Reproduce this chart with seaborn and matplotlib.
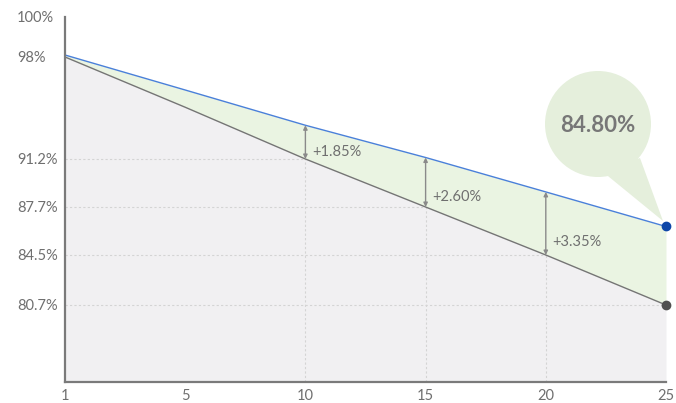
import numpy as np
import pandas as pd
import matplotlib
matplotlib.use("Agg")
import matplotlib.pyplot as plt
from matplotlib.patches import Circle, Polygon
import seaborn as sns

# ---------------- data ----------------
years = ["1", "5", "10", "15", "20", "25"]
upper_series = [98.1, 95.8, 93.45, 91.3, 88.8, 86.4]    # blue line
lower_series = [98.0, 94.65, 91.2, 87.7, 84.5, 80.7]    # grey line
gap_years = ["10", "15", "20"]
gap_labels = ["+1.85%", "+2.60%", "+3.35%"]
tick_values = [100, 98, 91.2, 87.7, 84.5, 80.7]
tick_labels = ["100%", "98%", "91.2%", "87.7%", "84.5%", "80.7%"]
grid_values = [91.2, 87.7, 84.5, 80.7]
bubble_text = "84.80%"

# ---------------- styling / layout ----------------
sns.set_theme(style="white")
plt.rcParams["font.family"] = ["Lato", "DejaVu Sans"]

TXT = "#6f6f6f"
BLUE = "#4a80d9"
BLUE_DOT = "#0e46a8"
GREY = "#757575"
GREY_DOT = "#505050"
FILL_GREY = "#f1f0f2"
FILL_GREEN = "#eaf4e2"
BUBBLE = "#e5efdc"

# piecewise axis scale (value -> height), matching the uneven label spacing
scale_v = [-100.0, 74.85, 80.7, 84.5, 87.7, 91.2, 98.0, 100.0, 300.0]
scale_h = [-(174.85) * 13.16, 0, 77, 127, 175, 223, 325, 365, 365 + 200 * 20]


def fwd(v):
    return np.interp(v, scale_v, scale_h)


def inv(h):
    return np.interp(h, scale_h, scale_v)


W, H = 676, 403
fig = plt.figure(figsize=(W / 100, H / 100), dpi=100)
ax = fig.add_axes([65 / W, (H - 382) / H, (666 - 65) / W, (382 - 17) / H])

df = pd.DataFrame({"year": years, "upper": upper_series, "lower": lower_series})

sns.lineplot(data=df, x="year", y="upper", sort=False, color=BLUE, lw=1.0, ax=ax, zorder=4)
sns.lineplot(data=df, x="year", y="lower", sort=False, color=GREY, lw=1.0, ax=ax, zorder=4)

ax.set_yscale("function", functions=(fwd, inv))
ymin, ymax = 74.85, 100.0
ax.set_ylim(ymin, ymax)
ax.set_xlim(0, len(years) - 1)

xpos = np.arange(len(years))
grey_poly = ax.fill_between(xpos, ymin, df["lower"], color=FILL_GREY, lw=0, zorder=1)
ax.fill_between(xpos, df["lower"], df["upper"], color=FILL_GREEN, lw=0, zorder=1)

# gridlines clipped to the grey area
clip_path = grey_poly.get_paths()[0]
for gv in grid_values:
    ln = ax.axhline(gv, color="#d4d4d4", lw=0.8, ls=(0, (2, 2)), zorder=2)
    ln.set_clip_path(clip_path, ax.transData)
for gy in gap_years:
    i = years.index(gy)
    ln = ax.axvline(i, color="#d4d4d4", lw=0.8, ls=(0, (2, 2)), zorder=2)
    ln.set_clip_path(clip_path, ax.transData)

# end markers
last = len(years) - 1
ax.plot([last], [upper_series[-1]], "o", color=BLUE_DOT, ms=6, zorder=6, clip_on=False)
ax.plot([last], [lower_series[-1]], "o", color=GREY_DOT, ms=6, zorder=6, clip_on=False)

# gap arrows
for gy, lab in zip(gap_years, gap_labels):
    i = years.index(gy)
    lo, hi = lower_series[i], upper_series[i]
    ax.annotate("", xy=(i, hi), xytext=(i, lo),
                arrowprops=dict(arrowstyle="<|-|>", color="#8a8a8a", lw=1.0,
                                shrinkA=0, shrinkB=0, mutation_scale=6),
                zorder=5)
    ax.annotate(lab, xy=(i, lo + 0.2 * (hi - lo)), xytext=(5, 0),
                textcoords="offset points", ha="left", va="center",
                fontsize=10.5, color=TXT, zorder=5)

# axes styling
ax.set_xlabel("")
ax.set_ylabel("")
ax.set_xticks(xpos)
ax.set_xticklabels(years)
ax.set_yticks(tick_values)
ax.set_yticklabels(tick_labels)
ax.tick_params(axis="y", length=0, pad=34.5, labelsize=10.5, labelcolor=TXT)
ax.tick_params(axis="x", length=0, pad=5, labelsize=10.5, labelcolor=TXT)
for lbl in ax.get_yticklabels():
    lbl.set_horizontalalignment("left")
for s in ["top", "right"]:
    ax.spines[s].set_visible(False)
for s in ["left", "bottom"]:
    ax.spines[s].set_color("#7a7a7a")
    ax.spines[s].set_linewidth(1.6)
    ax.spines[s].set_zorder(7)
ax.grid(False)
ax.set_facecolor("white")

# speech bubble (figure inches)
tr = fig.dpi_scale_trans
cx, cy, r = 5.98, (H - 124) / 100, 0.53
fig.patches.append(Circle((cx, cy), r, transform=tr, facecolor=BUBBLE, edgecolor="none", zorder=3))
tail = [(6.03, (H - 172) / 100), (6.40, (H - 158) / 100), (6.63, (H - 221) / 100)]
fig.patches.append(Polygon(tail, closed=True, transform=tr, facecolor=BUBBLE, edgecolor="none", zorder=3))
fig.text(cx, cy - 0.01, bubble_text, transform=tr, ha="center", va="center",
         fontsize=16, fontweight="bold", color="#777777", zorder=4)

fig.savefig("out.png", dpi=100)
